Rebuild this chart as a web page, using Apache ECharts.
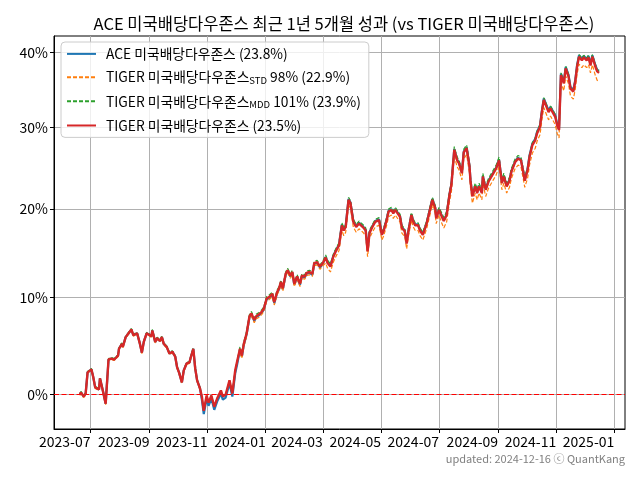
<!DOCTYPE html>
<html><head><meta charset="utf-8">
<script src="https://cdn.jsdelivr.net/npm/echarts@6/dist/echarts.min.js"></script>
<style>html,body{margin:0;padding:0;background:#fff}#c{width:640px;height:480px}</style>
</head><body><div id="c"></div>
<script>
// ---- data (cumulative return, %) ----
const dates = [
'2023-06-20','2023-06-21','2023-06-24','2023-06-26','2023-06-28','2023-07-02','2023-07-04','2023-07-06','2023-07-10','2023-07-11',
'2023-07-14','2023-07-17','2023-07-20','2023-07-23','2023-07-26','2023-07-30','2023-07-31','2023-08-03','2023-08-04','2023-08-07',
'2023-08-10','2023-08-13','2023-08-15','2023-08-17','2023-08-19','2023-08-22','2023-08-24','2023-08-26','2023-08-29','2023-08-31',
'2023-09-03','2023-09-04','2023-09-07','2023-09-09','2023-09-12','2023-09-14','2023-09-16','2023-09-19','2023-09-22','2023-09-25',
'2023-09-28','2023-09-30','2023-10-02','2023-10-05','2023-10-07','2023-10-10','2023-10-13','2023-10-14','2023-10-17','2023-10-19',
'2023-10-21','2023-10-24','2023-10-26','2023-10-28','2023-10-31','2023-11-02','2023-11-05','2023-11-08','2023-11-11','2023-11-15',
'2023-11-17','2023-11-20','2023-11-24','2023-11-27','2023-11-30','2023-12-02','2023-12-05','2023-12-07','2023-12-09','2023-12-12',
'2023-12-15','2023-12-17','2023-12-20','2023-12-22','2023-12-25','2023-12-28','2023-12-30','2024-01-02','2024-01-05','2024-01-08',
'2024-01-10','2024-01-13','2024-01-15','2024-01-17','2024-01-19','2024-01-22','2024-01-24','2024-01-27','2024-01-29','2024-01-31',
'2024-02-03','2024-02-06','2024-02-08','2024-02-11','2024-02-13','2024-02-16','2024-02-19','2024-02-21','2024-02-24','2024-02-27',
'2024-03-01','2024-03-04','2024-03-06','2024-03-09','2024-03-12','2024-03-15','2024-03-18','2024-03-21','2024-03-23','2024-03-25',
'2024-03-28','2024-03-30','2024-04-02','2024-04-05','2024-04-08','2024-04-10','2024-04-12','2024-04-15','2024-04-17','2024-04-19',
'2024-04-22','2024-04-25','2024-04-27','2024-04-29','2024-05-02','2024-05-04','2024-05-07','2024-05-09','2024-05-12','2024-05-14',
'2024-05-16','2024-05-18','2024-05-21','2024-05-23','2024-05-26','2024-05-28','2024-05-30','2024-06-02','2024-06-04','2024-06-06',
'2024-06-09','2024-06-11','2024-06-14','2024-06-16','2024-06-18','2024-06-21','2024-06-24','2024-06-27','2024-06-28','2024-07-01',
'2024-07-04','2024-07-06','2024-07-09','2024-07-12','2024-07-14','2024-07-17','2024-07-20','2024-07-22','2024-07-25','2024-07-27',
'2024-07-30','2024-08-02','2024-08-03','2024-08-05','2024-08-08','2024-08-10','2024-08-12','2024-08-15','2024-08-16','2024-08-19',
'2024-08-22','2024-08-24','2024-08-27','2024-08-30','2024-09-02','2024-09-05','2024-09-07','2024-09-10','2024-09-13','2024-09-15',
'2024-09-19','2024-09-22','2024-09-25','2024-09-27','2024-09-29','2024-10-02','2024-10-04','2024-10-07','2024-10-10','2024-10-12',
'2024-10-15','2024-10-17','2024-10-19','2024-10-21','2024-10-24','2024-10-26','2024-10-28','2024-10-31','2024-11-02','2024-11-04',
'2024-11-06','2024-11-09','2024-11-11','2024-11-14','2024-11-16','2024-11-19','2024-11-21','2024-11-23','2024-11-25','2024-11-28',
'2024-11-30','2024-12-03','2024-12-05','2024-12-07','2024-12-09','2024-12-12','2024-12-14','2024-12-16'
];

// ACE 미국배당다우존스 (blue)
const aceValues = [
0.0,0.2,-0.2,0.1,2.2,2.5,1.7,0.7,0.5,1.6,
0.4,-0.9,3.5,3.6,3.5,3.9,4.6,5.1,4.8,5.8,
6.2,6.6,6.0,5.8,6.2,5.1,4.2,5.3,6.2,6.4,
5.9,6.5,5.3,5.7,5.4,5.8,5.1,4.8,4.1,4.3,
3.8,2.7,2.2,1.2,2.4,3.1,3.2,3.6,4.6,2.6,
1.4,0.6,-0.5,-1.9,-0.4,-1.1,-0.4,-1.5,-0.7,0.1,
-0.5,-0.3,1.1,-0.2,2.1,3.0,4.5,3.8,5.0,6.1,
7.9,8.2,7.5,7.9,8.1,8.4,8.7,9.8,10.0,10.3,
9.4,10.5,10.9,11.6,10.9,12.5,12.9,12.3,12.7,11.4,
12.2,11.4,12.3,12.2,12.6,12.7,12.5,13.7,13.8,13.3,
13.7,14.5,13.9,13.5,14.6,15.3,15.9,18.2,17.6,18.0,
21.2,20.8,18.6,18.0,18.4,18.6,18.0,17.6,15.2,17.3,
18.0,18.6,18.4,18.8,17.1,17.6,18.8,19.8,20.0,19.6,
20.0,20.2,19.2,17.9,17.5,16.1,17.6,19.4,18.6,18.2,
18.2,17.6,17.1,16.9,18.4,19.8,21.2,20.2,19.0,20.0,
19.2,18.7,19.4,21.8,23.0,27.3,26.0,25.6,24.4,27.0,
27.5,25.2,23.5,21.6,22.8,22.0,22.8,22.0,24.0,22.4,
23.4,23.5,24.4,25.0,26.0,23.2,24.0,22.8,23.5,24.6,
25.8,26.2,26.0,24.8,23.5,24.9,26.5,28.0,28.6,29.5,
30.3,32.2,33.8,34.0,32.2,32.7,32.5,31.6,30.5,29.9,
37.1,36.0,38.0,36.9,35.3,34.9,36.2,38.3,39.6,39.1,
39.5,39.1,39.5,38.4,39.6,38.3,37.6,37.5
];

// TIGER 미국배당다우존스 STD 98% (orange, dashed)
const tigerStdValues = [
-0.1,0.1,-0.3,0.0,2.1,2.4,1.6,0.6,0.4,1.5,
0.3,-1.0,3.4,3.5,3.4,3.8,4.5,5.0,4.7,5.7,
6.1,6.5,5.9,5.7,6.1,5.0,4.1,5.2,6.1,6.3,
5.8,6.4,5.2,5.6,5.3,5.7,5.0,4.7,4.0,4.2,
3.7,2.6,2.1,1.1,2.3,3.0,3.1,3.5,4.5,2.5,
1.3,0.5,-0.2,-1.6,-0.1,-0.8,-0.1,-1.2,-0.4,0.4,
-0.2,0.0,1.4,0.1,2.4,3.3,4.3,3.6,4.8,5.9,
7.7,8.0,7.3,7.7,7.9,8.2,8.5,9.6,9.8,10.1,
9.2,10.3,10.7,11.4,10.7,12.3,12.7,12.1,12.5,11.2,
12.0,11.2,12.1,12.0,12.4,12.5,12.3,13.5,13.6,13.1,
13.5,13.8,13.2,12.8,13.9,14.6,15.2,17.5,16.9,17.3,
20.5,20.1,17.9,17.3,17.7,17.9,17.3,16.9,14.5,16.6,
17.3,17.9,17.7,18.1,16.4,16.9,18.1,19.1,19.3,18.9,
19.3,19.5,18.5,17.2,16.8,15.4,16.9,18.7,17.9,17.5,
17.5,16.9,16.4,16.2,17.7,19.1,20.5,19.5,18.3,19.3,
18.3,17.8,18.5,20.9,22.1,26.4,25.1,24.7,23.5,26.1,
26.6,24.3,22.6,20.7,21.9,21.1,21.9,21.1,23.1,21.5,
22.5,22.6,23.5,24.1,25.1,22.3,23.1,21.9,22.6,23.7,
24.9,25.3,25.1,23.9,22.6,23.7,25.3,26.8,27.4,28.3,
29.1,31.0,32.6,32.8,31.0,31.5,31.3,30.4,29.3,28.7,
35.9,34.8,36.8,35.7,34.1,33.7,35.0,37.1,38.4,37.9,
38.3,37.9,38.3,37.2,38.3,36.9,36.2,36.0
];

// TIGER 미국배당다우존스 MDD 101% (green, dashed)
const tigerMddValues = [
0.1,0.3,-0.1,0.2,2.3,2.6,1.8,0.8,0.6,1.7,
0.5,-0.8,3.6,3.7,3.6,4.0,4.7,5.2,4.9,5.9,
6.3,6.7,6.1,5.9,6.3,5.2,4.3,5.4,6.3,6.5,
6.0,6.6,5.4,5.8,5.5,5.9,5.2,4.9,4.2,4.4,
3.9,2.8,2.3,1.3,2.5,3.2,3.3,3.7,4.7,2.7,
1.5,0.7,-0.2,-1.6,-0.1,-0.8,-0.1,-1.2,-0.4,0.4,
-0.2,0.0,1.4,0.1,2.4,3.3,4.8,4.1,5.3,6.4,
8.2,8.5,7.8,8.2,8.4,8.7,9.0,10.1,10.3,10.6,
9.7,10.8,11.2,11.9,11.2,12.8,13.2,12.6,13.0,11.7,
12.5,11.7,12.6,12.5,12.9,13.0,12.8,14.0,14.1,13.6,
14.0,14.7,14.1,13.7,14.8,15.5,16.1,18.4,17.8,18.2,
21.4,21.0,18.8,18.2,18.6,18.8,18.2,17.8,15.4,17.5,
18.2,18.8,18.6,19.0,17.3,17.8,19.0,20.0,20.2,19.8,
20.2,20.4,19.4,18.1,17.7,16.3,17.8,19.6,18.8,18.4,
18.4,17.8,17.3,17.1,18.6,20.0,21.4,20.4,19.2,20.2,
19.5,19.0,19.7,22.1,23.3,27.6,26.3,25.9,24.7,27.3,
27.8,25.5,23.8,21.9,23.1,22.3,23.1,22.3,24.3,22.7,
23.7,23.8,24.7,25.3,26.3,23.5,24.3,23.1,23.8,24.9,
26.1,26.5,26.3,25.1,23.8,25.0,26.6,28.1,28.7,29.6,
30.4,32.3,33.9,34.1,32.3,32.8,32.6,31.7,30.6,30.0,
37.2,36.1,38.1,37.0,35.4,35.0,36.3,38.4,39.7,39.2,
39.6,39.2,39.6,38.5,39.7,38.4,37.7,37.4
];

// TIGER 미국배당다우존스 (red)
const tigerValues = [
0.0,0.2,-0.2,0.1,2.2,2.5,1.7,0.7,0.5,1.6,
0.4,-0.9,3.5,3.6,3.5,3.9,4.6,5.1,4.8,5.8,
6.2,6.6,6.0,5.8,6.2,5.1,4.2,5.3,6.2,6.4,
5.9,6.5,5.3,5.7,5.4,5.8,5.1,4.8,4.1,4.3,
3.8,2.7,2.2,1.2,2.4,3.1,3.2,3.6,4.6,2.6,
1.4,0.6,-0.2,-1.6,-0.1,-0.8,-0.1,-1.2,-0.4,0.4,
-0.2,0.0,1.4,0.1,2.4,3.3,4.6,3.9,5.1,6.2,
8.0,8.3,7.6,8.0,8.2,8.5,8.8,9.9,10.1,10.4,
9.5,10.6,11.0,11.7,11.0,12.6,13.0,12.4,12.8,11.5,
12.3,11.5,12.4,12.3,12.7,12.8,12.6,13.8,13.9,13.4,
13.8,14.4,13.8,13.4,14.5,15.2,15.8,18.1,17.5,17.9,
21.1,20.7,18.5,17.9,18.3,18.5,17.9,17.5,15.1,17.2,
17.9,18.5,18.3,18.7,17.0,17.5,18.7,19.7,19.9,19.5,
19.9,20.1,19.1,17.8,17.4,16.0,17.5,19.3,18.5,18.1,
18.1,17.5,17.0,16.8,18.3,19.7,21.1,20.1,18.9,19.9,
19.1,18.6,19.3,21.7,22.9,27.2,25.9,25.5,24.3,26.9,
27.4,25.1,23.4,21.5,22.7,21.9,22.7,21.9,23.9,22.3,
23.3,23.4,24.3,24.9,25.9,23.1,23.9,22.7,23.4,24.5,
25.7,26.1,25.9,24.7,23.4,24.7,26.3,27.8,28.4,29.3,
30.1,32.0,33.6,33.8,32.0,32.5,32.3,31.4,30.3,29.7,
36.9,35.8,37.8,36.7,35.1,34.7,36.0,38.1,39.4,38.9,
39.3,38.9,39.3,38.2,39.4,38.1,37.4,37.2
];

const seriesNames = [
  'ACE 미국배당다우존스 (23.8%)',
  'TIGER 미국배당다우존스STD 98% (22.9%)',
  'TIGER 미국배당다우존스MDD 101% (23.9%)',
  'TIGER 미국배당다우존스 (23.5%)'
];
const yTickPercents = [0, 10, 20, 30, 40];
const xTickLabels = ['2023-07','2023-09','2023-11','2024-01','2024-03','2024-05','2024-07','2024-09','2024-11','2025-01'];
const titleText = 'ACE 미국배당다우존스 최근 1년 5개월 성과 (vs TIGER 미국배당다우존스)';
const footerText = 'updated: 2024-12-16 ⓒ QuantKang';

// ---- helpers ----
const FONT = '"Noto Sans CJK KR", "Noto Sans", sans-serif';
const parseD = s => { const p = s.split('-').map(Number); return Date.UTC(p[0], p[1]-1, p[2] || 1); };
const toLog = p => Math.log(1 + p / 100);
const mk = arr => dates.map((d, i) => [parseD(d), toLog(arr[i])]);

const t0 = parseD(dates[0]), t1 = parseD(dates[dates.length-1]);
const span = t1 - t0;
const xMin = t0 - 0.05 * span, xMax = t1 + 0.05 * span;
const xTickVals = xTickLabels.map(parseD);
const yTickVals = yTickPercents.map(toLog);

const chart = echarts.init(document.getElementById('c'));
const subFmt = name => {
  const m = name.match(/^(.*?)(STD|MDD)(.*)$/);
  if (!m) return name;
  return m[1] + '{sub|' + m[2] + '}' + m[3];
};

chart.setOption({
  animation: false,
  backgroundColor: '#fff',
  textStyle: { fontFamily: FONT },
  title: {
    text: titleText, left: 339, top: 10, textAlign: 'center',
    textStyle: { fontSize: 16.5, fontWeight: 'normal', color: '#000', fontFamily: FONT }
  },
  grid: { left: 54, right: 15, top: 36, bottom: 51, show: true, borderColor: '#000', borderWidth: 1, outerBoundsMode: 'none', containLabel: false },
  legend: {
    orient: 'vertical', left: 61, top: 42,
    itemWidth: 29, itemHeight: 14, itemGap: 9.5,
    padding: [5, 8, 5, 5],
    backgroundColor: 'rgba(255,255,255,0.8)', borderColor: '#cccccc', borderWidth: 1, borderRadius: 4,
    itemStyle: { opacity: 0 },
    data: seriesNames,
    formatter: subFmt,
    textStyle: {
      fontFamily: FONT, fontSize: 13.8, color: '#000', padding: [0, 0, 0, 5],
      rich: { sub: { fontSize: 9.5, fontFamily: FONT, color: '#000', padding: [6, 0, 0, 0] } }
    }
  },
  xAxis: {
    type: 'value', min: xMin, max: xMax, scale: true,
    axisLine: { show: true, onZero: false, lineStyle: { color: '#000', width: 1 } },
    axisTick: { show: true, length: 4, customValues: xTickVals, lineStyle: { color: '#000' } },
    axisLabel: {
      customValues: xTickVals, hideOverlap: false, margin: 6, align: 'right',
      formatter: v => { const d = new Date(v); return d.getUTCFullYear() + '-' + String(d.getUTCMonth()+1).padStart(2,'0'); },
      color: '#000', fontSize: 14, fontFamily: FONT
    },
    splitLine: { show: true, lineStyle: { color: '#b0b0b0', width: 1 } }
  },
  yAxis: {
    type: 'value', min: -0.03395, max: 0.35253, scale: true,
    axisLine: { show: true, onZero: false, lineStyle: { color: '#000', width: 1 } },
    axisTick: { show: true, length: 4, customValues: yTickVals, lineStyle: { color: '#000' } },
    axisLabel: {
      customValues: yTickVals, margin: 6,
      formatter: v => Math.round((Math.exp(v) - 1) * 100) + '%',
      color: '#000', fontSize: 14, fontFamily: FONT
    },
    splitLine: { show: true, lineStyle: { color: '#b0b0b0', width: 1 } }
  },
  series: [
    { name: seriesNames[0], type: 'line', data: mk(aceValues), symbol: 'none', z: 2,
      lineStyle: { color: '#1f77b4', width: 2.2 }, itemStyle: { color: '#1f77b4' },
      markLine: { silent: true, symbol: ['none','none'], label: { show: false },
        lineStyle: { color: '#ff0000', type: [5, 2.5], width: 1.2 }, data: [{ yAxis: 0 }] } },
    { name: seriesNames[1], type: 'line', data: mk(tigerStdValues), symbol: 'none', z: 3,
      lineStyle: { color: '#ff7f0e', width: 1.2, type: [4, 2] }, itemStyle: { color: '#ff7f0e' } },
    { name: seriesNames[2], type: 'line', data: mk(tigerMddValues), symbol: 'none', z: 4,
      lineStyle: { color: '#2ca02c', width: 1.2, type: [4, 2] }, itemStyle: { color: '#2ca02c' } },
    { name: seriesNames[3], type: 'line', data: mk(tigerValues), symbol: 'none', z: 5,
      lineStyle: { color: '#d62728', width: 2.4 }, itemStyle: { color: '#d62728' } }
  ],
  graphic: [
    { type: 'text', right: 15, top: 453,
      style: { text: footerText, fill: '#808080', fontSize: 11, fontFamily: FONT } }
  ]
});
</script>
</body></html>
